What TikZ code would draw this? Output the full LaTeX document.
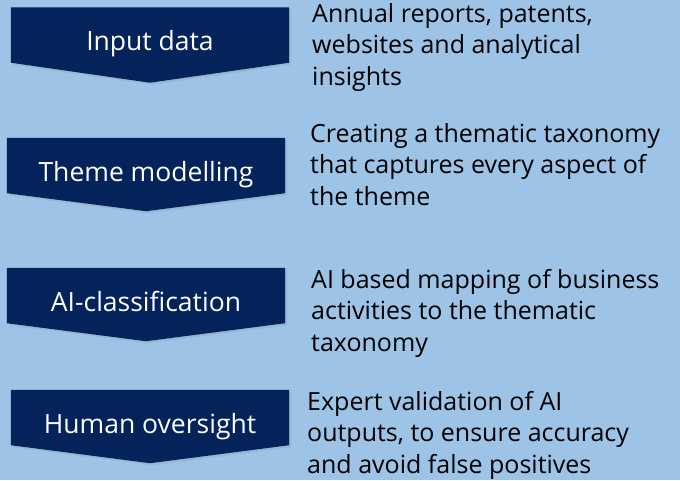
\documentclass[tikz,border=0pt]{standalone}
\usepackage{fontspec}
\setmainfont{Open Sans}
\usetikzlibrary{positioning}
\usetikzlibrary{backgrounds,shadows}
\definecolor{skyback}{HTML}{9DC3E6}
\definecolor{navybox}{HTML}{03235A}
\tikzset{stagebox/.style={rectangle,draw=none,text=white,
inner sep=0pt,minimum height=55pt, minimum width=278pt,
text height=31pt, text depth=0pt, font=\fontsize{26.5}{30}\selectfont}}
\tikzset{stagenote/.style={anchor=base west,align=left,inner sep=0pt,
text=black, font=\fontsize{25}{31.5}\selectfont}}
\tikzset{stagefill/.style={fill=navybox,
drop shadow={opacity=0.18,shadow xshift=2pt,shadow yshift=-2pt}}}

\begin{document}
\begin{tikzpicture}[x=1pt,y=-1pt]
    \useasboundingbox (0,0) rectangle (680,480);

    \node[stagebox] (input) at (150,35) {Input data};
    \node[stagebox] (theme) at (146,165.5) {Theme modelling};
    \node[stagebox] (classify) at (146,295.5) {AI-classification};
    \node[stagebox] (oversight) at (150,417.5) {Human oversight};

    % notes sit on the baseline of their last line
    \node[stagenote] (inputnote) at (312,85) {Annual reports, patents,\\websites and analytical\\insights};
    \node[stagenote] (themenote) at (310,205) {Creating a thematic taxonomy\\that captures every aspect of\\the theme};
    \node[stagenote] (classifynote) at (311,351) {AI based mapping of business\\activities to the thematic\\taxonomy};
    \node[stagenote] (oversightnote) at (307,473) {Expert validation of AI\\outputs, to ensure accuracy\\and avoid false positives};

    \begin{scope}[on background layer]
        \fill[skyback] (0,0) rectangle (680,480);
        \fill[stagefill] (input.north west) -- (input.north east) -- (input.south east)
            -- ([yshift=-20pt]input.south) -- (input.south west) -- cycle;
        \fill[stagefill] (theme.north west) -- (theme.north east) -- (theme.south east)
            -- ([yshift=-18pt]theme.south) -- (theme.south west) -- cycle;
        \fill[stagefill] (classify.north west) -- (classify.north east) -- (classify.south east)
            -- ([yshift=-18pt]classify.south) -- (classify.south west) -- cycle;
        \fill[stagefill] (oversight.north west) -- (oversight.north east) -- (oversight.south east)
            -- ([yshift=-18pt]oversight.south) -- (oversight.south west) -- cycle;
    \end{scope}

\end{tikzpicture}
\end{document}
